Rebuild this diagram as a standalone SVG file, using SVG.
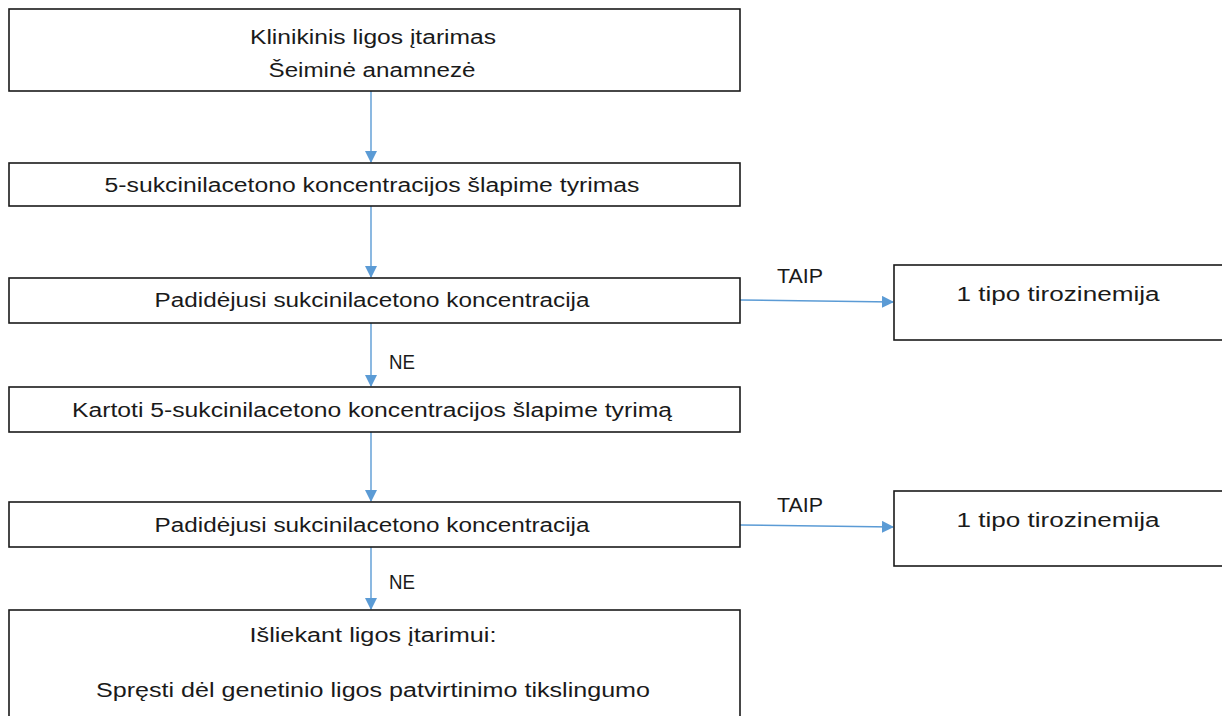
<svg xmlns="http://www.w3.org/2000/svg" width="1222" height="716" viewBox="0 0 1222 716">
<defs>
<style>
.box{fill:#fff;stroke:#1a1a1a;stroke-width:1.6}
.t{font-family:"Liberation Sans",Arial,sans-serif;font-size:20px;fill:#1a1a1a;text-anchor:middle}
.l{font-family:"Liberation Sans",Arial,sans-serif;font-size:20px;fill:#1a1a1a}
.c{fill:none;stroke:#5B9BD5;stroke-width:1.4}
</style>
<marker id="ah" markerWidth="12" markerHeight="12" refX="11" refY="6" orient="auto" markerUnits="userSpaceOnUse">
<path d="M0,0 L12,6 L0,12 Z" fill="#5B9BD5"/>
</marker>
</defs>
<rect width="1222" height="716" fill="#fff"/>
<g id="connectors">
<line class="c" x1="371" y1="91" x2="371" y2="162" marker-end="url(#ah)"/>
<line class="c" x1="371" y1="206" x2="371" y2="277" marker-end="url(#ah)"/>
<line class="c" x1="740" y1="300" x2="893" y2="302" marker-end="url(#ah)"/>
<line class="c" x1="371" y1="323" x2="371" y2="386" marker-end="url(#ah)"/>
<line class="c" x1="371" y1="432" x2="371" y2="501" marker-end="url(#ah)"/>
<line class="c" x1="740" y1="525" x2="893" y2="527" marker-end="url(#ah)"/>
<line class="c" x1="371" y1="547" x2="371" y2="609" marker-end="url(#ah)"/>
<text class="l" x="777" y="283" textLength="46" lengthAdjust="spacingAndGlyphs">TAIP</text>
<text class="l" x="777" y="512" textLength="46" lengthAdjust="spacingAndGlyphs">TAIP</text>
<text class="l" x="389" y="369" textLength="26" lengthAdjust="spacingAndGlyphs">NE</text>
<text class="l" x="389" y="589" textLength="26" lengthAdjust="spacingAndGlyphs">NE</text>
</g>
<g id="n1">
<rect class="box" x="9" y="9" width="731" height="82"/>
<text class="t" x="373" y="44" textLength="246" lengthAdjust="spacingAndGlyphs">Klinikinis ligos įtarimas</text>
<text class="t" x="372" y="77" textLength="207" lengthAdjust="spacingAndGlyphs">Šeiminė anamnezė</text>
</g>
<g id="n2">
<rect class="box" x="9" y="163" width="731" height="43"/>
<text class="t" x="372" y="192" textLength="535" lengthAdjust="spacingAndGlyphs">5-sukcinilacetono koncentracijos šlapime tyrimas</text>
</g>
<g id="n3">
<rect class="box" x="9" y="278" width="731" height="45"/>
<text class="t" x="372" y="307" textLength="435" lengthAdjust="spacingAndGlyphs">Padidėjusi sukcinilacetono koncentracija</text>
</g>
<g id="n4">
<rect class="box" x="894" y="265" width="340" height="75"/>
<text class="t" x="1058" y="301" textLength="203" lengthAdjust="spacingAndGlyphs">1 tipo tirozinemija</text>
</g>
<g id="n5">
<rect class="box" x="9" y="387" width="731" height="45"/>
<text class="t" x="372" y="417" textLength="600" lengthAdjust="spacingAndGlyphs">Kartoti 5-sukcinilacetono koncentracijos šlapime tyrimą</text>
</g>
<g id="n6">
<rect class="box" x="9" y="502" width="731" height="45"/>
<text class="t" x="372" y="532" textLength="435" lengthAdjust="spacingAndGlyphs">Padidėjusi sukcinilacetono koncentracija</text>
</g>
<g id="n7">
<rect class="box" x="894" y="491" width="340" height="75"/>
<text class="t" x="1058" y="527" textLength="203" lengthAdjust="spacingAndGlyphs">1 tipo tirozinemija</text>
</g>
<g id="n8">
<rect class="box" x="9" y="610" width="731" height="120"/>
<text class="t" x="373" y="642" textLength="247" lengthAdjust="spacingAndGlyphs">Išliekant ligos įtarimui:</text>
<text class="t" x="373" y="697" textLength="554" lengthAdjust="spacingAndGlyphs">Spręsti dėl genetinio ligos patvirtinimo tikslingumo</text>
</g>
</svg>
